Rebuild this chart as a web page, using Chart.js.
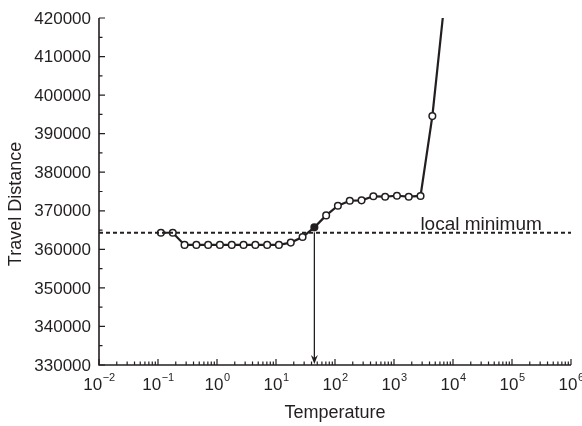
<!DOCTYPE html>
<html>
<head>
<meta charset="utf-8">
<script src="https://cdn.jsdelivr.net/npm/chart.js@4/dist/chart.umd.min.js"></script>
<style>
  body { margin: 0; background: #fff; }
  #wrap { width: 582px; height: 426px; }
</style>
</head>
<body>
<div id="wrap"><canvas id="chart" width="582" height="426"></canvas></div>
<script>
// data
const temperature = [0.112, 0.178, 0.282, 0.447, 0.708, 1.12, 1.78, 2.82, 4.47, 7.08,
  11.2, 17.8, 28.2, 44.7, 70.8, 112, 178, 282, 447, 708, 1122, 1778, 2818, 4467, 7079];
const travelDistance = [364300, 364300, 361150, 361150, 361150, 361150, 361150, 361150,
  361150, 361150, 361150, 361750, 363200, 365700, 368800, 371300, 372600, 372700,
  373750, 373650, 373900, 373650, 373850, 394550, 423400];
const localMinimum = 364300;
const minimumIndex = 13; // filled point, arrow drops from here
const yTicks = [330000, 340000, 350000, 360000, 370000, 380000, 390000, 400000, 410000, 420000];
const xExponents = [-2, -1, 0, 1, 2, 3, 4, 5, 6];

const ink = "#231f20";
const FONT = "Arial, 'Liberation Sans', sans-serif";

// Axes, ticks, labels, arrow and annotation
const axesPlugin = {
  id: "axesPlugin",
  afterDatasetsDraw(chart) {
    const { ctx, chartArea: a, scales } = chart;
    const xs = scales.x, ys = scales.y;
    ctx.save();
    ctx.strokeStyle = ink;
    ctx.fillStyle = ink;

    // axis lines
    ctx.lineWidth = 1.6;
    ctx.beginPath();
    ctx.moveTo(a.left, a.top);
    ctx.lineTo(a.left, a.bottom);
    ctx.lineTo(a.right, a.bottom);
    ctx.stroke();

    // y ticks (inward)
    ctx.lineWidth = 1.2;
    ctx.beginPath();
    yTicks.forEach((v, i) => {
      const y = ys.getPixelForValue(v);
      ctx.moveTo(a.left, y); ctx.lineTo(a.left + 6, y);
      if (i < yTicks.length - 1) {
        const ym = ys.getPixelForValue((v + yTicks[i + 1]) / 2);
        ctx.moveTo(a.left, ym); ctx.lineTo(a.left + 3.5, ym);
      }
    });
    // x ticks (inward)
    xExponents.forEach((e, i) => {
      const x = xs.getPixelForValue(Math.pow(10, e));
      ctx.moveTo(x, a.bottom); ctx.lineTo(x, a.bottom - 6);
      if (i < xExponents.length - 1) {
        for (let m = 2; m <= 9; m++) {
          const xm = xs.getPixelForValue(m * Math.pow(10, e));
          ctx.moveTo(xm, a.bottom); ctx.lineTo(xm, a.bottom - 3.5);
        }
      }
    });
    ctx.stroke();

    // y tick labels
    ctx.font = "17px " + FONT;
    ctx.textAlign = "right";
    ctx.textBaseline = "middle";
    yTicks.forEach((v) => {
      ctx.fillText(String(v), a.left - 8, ys.getPixelForValue(v) + 1);
    });

    // x tick labels 10^n
    ctx.textBaseline = "alphabetic";
    ctx.textAlign = "left";
    xExponents.forEach((e) => {
      const x = xs.getPixelForValue(Math.pow(10, e));
      ctx.font = "17px " + FONT;
      const bw = ctx.measureText("10").width;
      ctx.font = "11px " + FONT;
      const expText = String(e).replace("-", "\u2212");
      const ew = ctx.measureText(expText).width;
      const start = x - (bw + ew) / 2;
      ctx.font = "17px " + FONT;
      ctx.fillText("10", start, a.bottom + 25);
      ctx.font = "11px " + FONT;
      ctx.fillText(expText, start + bw + 0.5, a.bottom + 16);
    });

    // axis titles
    ctx.font = "18px " + FONT;
    ctx.textAlign = "center";
    ctx.fillText("Temperature", (a.left + a.right) / 2, 418);
    ctx.save();
    ctx.translate(16, 204);
    ctx.rotate(-Math.PI / 2);
    ctx.textBaseline = "middle";
    ctx.fillText("Travel Distance", 0, 0);
    ctx.restore();

    // annotation
    ctx.textAlign = "left";
    ctx.font = "19px " + FONT;
    ctx.fillText("local minimum", xs.getPixelForValue(2800), ys.getPixelForValue(localMinimum) - 3);

    // arrow from the minimum point down to the axis
    const ax = xs.getPixelForValue(temperature[minimumIndex]);
    const ay = ys.getPixelForValue(travelDistance[minimumIndex]) + 5;
    ctx.lineWidth = 1.3;
    ctx.beginPath();
    ctx.moveTo(ax, ay);
    ctx.lineTo(ax, a.bottom - 6);
    ctx.stroke();
    ctx.beginPath();
    ctx.moveTo(ax, a.bottom - 1);
    ctx.lineTo(ax - 3.5, a.bottom - 10);
    ctx.lineTo(ax, a.bottom - 7);
    ctx.lineTo(ax + 3.5, a.bottom - 10);
    ctx.closePath();
    ctx.fill();

    ctx.restore();
  },
};

const points = temperature.map((t, i) => ({ x: t, y: travelDistance[i] }));

new Chart(document.getElementById("chart"), {
  type: "line",
  data: {
    datasets: [
      {
        data: [{ x: 0.01, y: localMinimum }, { x: 1e6, y: localMinimum }],
        borderColor: ink,
        borderWidth: 2,
        borderDash: [4, 3],
        pointRadius: 0,
        clip: 0,
      },
      {
        data: points,
        borderColor: ink,
        borderWidth: 2.2,
        pointRadius: 3.3,
        pointBorderWidth: 1.5,
        pointBorderColor: ink,
        pointBackgroundColor: temperature.map((t, i) => (i === minimumIndex ? ink : "#fff")),
        clip: 0,
      },
    ],
  },
  options: {
    responsive: false,
    animation: false,
    layout: { padding: { left: 99, top: 18, right: 11, bottom: 61 } },
    plugins: { legend: { display: false }, tooltip: { enabled: false } },
    scales: {
      x: { type: "logarithmic", min: 0.01, max: 1e6, display: false },
      y: { type: "linear", min: 330000, max: 420000, display: false },
    },
  },
  plugins: [axesPlugin],
});
</script>
</body>
</html>
